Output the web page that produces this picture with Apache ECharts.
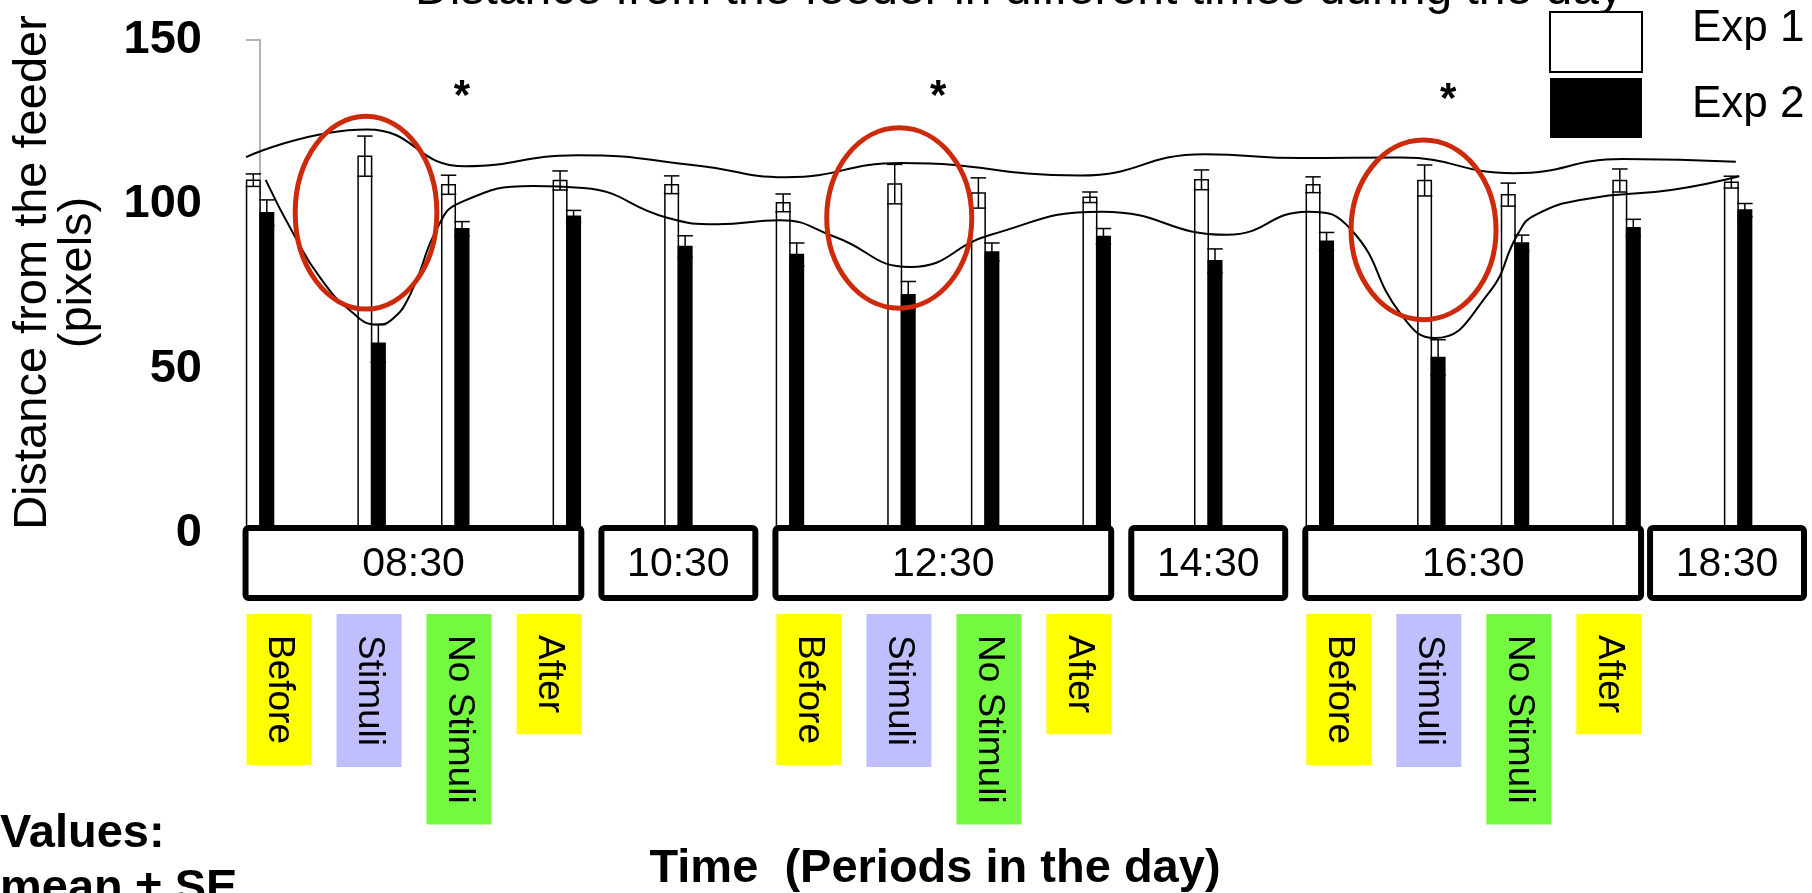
<!DOCTYPE html>
<html>
<head>
<meta charset="utf-8">
<script src="https://cdn.jsdelivr.net/npm/echarts@6/dist/echarts.min.js"></script>
<style>
  html, body { margin: 0; padding: 0; background: #fff; }
  #chart { width: 1812px; height: 893px; }
</style>
</head>
<body>
<div id="chart"></div>
<script>
// slot of each bar pair along the day (No Stimuli sits closer to Stimuli)
const groupPos = [0, 1, 1.75, 2.75, 3.75, 4.75, 5.75, 6.5, 7.5, 8.5, 9.5, 10.5, 11.25, 12.25, 13.25];
const groupPeriod = [0, 0, 0, 0, 1, 2, 2, 2, 2, 3, 4, 4, 4, 4, 5];
const periods = ['08:30', '10:30', '12:30', '14:30', '16:30', '18:30'];
const conditions = ['Before', 'Stimuli', 'No Stimuli', 'After'];
const conditionColors = ['#ffff00', '#bfbfff', '#74f941', '#ffff00'];

const exp1Mean = [107.4, 114.7, 106.0, 107.3, 106.0, 100.5, 106.2, 103.5, 102.2, 107.5, 106.0, 107.3, 103.0, 107.3, 106.8];
const exp1SE = [1.9, 6.1, 2.9, 2.9, 2.7, 2.7, 6.0, 4.6, 1.6, 3.0, 2.4, 4.7, 3.5, 3.5, 1.8];
const exp2Mean = [97.5, 57.8, 92.6, 96.4, 87.2, 84.8, 72.6, 85.6, 90.3, 82.9, 88.8, 53.5, 88.3, 92.9, 98.3];
const exp2SE = [3.9, 5.7, 2.2, 1.8, 3.3, 3.5, 4.0, 2.7, 2.4, 3.6, 2.7, 5.4, 2.4, 2.6, 2.0];
const legendNames = ['Exp 1', 'Exp 2'];

// hand drawn trend curves
const upperX = [-0.126, 0.96, 1.84, 2.84, 3.95, 4.71, 5.75, 7.35, 8.47, 9.33, 10.22, 11.24, 12.22, 13.23];
const upperY = [114.4, 122.8, 111.6, 115.0, 111.7, 108.3, 112.6, 108.8, 115.3, 114.1, 114.3, 109.5, 113.8, 113.0];
const lowerX = [0.05, 0.30, 0.54, 0.81, 1.05, 1.17, 1.35, 1.59, 1.79, 2.45, 2.90, 3.65, 4.10, 4.66, 5.15, 5.83, 6.55, 7.55, 8.67, 9.39, 9.78, 10.23, 10.53, 11.01, 11.28, 11.43, 11.89, 12.65, 13.26];
const lowerY = [107.5, 91.0, 77.7, 67.7, 63.5, 64.7, 72.9, 92.9, 100.5, 105.6, 105.0, 96.0, 94.0, 95.2, 90.2, 81.0, 90.8, 97.8, 90.8, 97.8, 92.4, 66.5, 59.4, 72.9, 91.3, 96.8, 101.7, 104.4, 108.6];

// red circles around the Stimuli periods (centre and radii in axis units)
const ringX = [0.95, 5.73, 10.43];
const ringY = [97.5, 95.9, 92.3];
const ringRX = [0.635, 0.65, 0.65];
const ringRY = [29.3, 27.4, 27.3];

const starX = [1.81, 6.08, 10.65];
const starY = [132.6, 132.4, 131.7];

const FONT = '"Liberation Sans", Arial, sans-serif';
const BAR_W = 13.5;

let chart = echarts.init(document.getElementById('chart'));

function barRenderer(fill, side) {
  return function (params, api) {
    const x = api.value(0), m = api.value(1), se = api.value(2);
    const p0 = api.coord([x, 0]);
    const pm = api.coord([x, m]);
    const ph = api.coord([x, m + se]);
    const pl = api.coord([x, m - se]);
    const left = side < 0 ? p0[0] - BAR_W : p0[0];
    const cx = left + BAR_W / 2;
    const cap = BAR_W / 2 + 1;
    const ln = { stroke: '#000', lineWidth: 1.5 };
    return {
      type: 'group',
      children: [
        { type: 'rect', shape: { x: left, y: pm[1], width: BAR_W, height: p0[1] - pm[1] },
          style: { fill: fill, stroke: '#000', lineWidth: 1.5 } },
        { type: 'line', shape: { x1: cx, y1: ph[1], x2: cx, y2: pl[1] }, style: ln },
        { type: 'line', shape: { x1: cx - cap, y1: ph[1], x2: cx + cap, y2: ph[1] }, style: ln },
        { type: 'line', shape: { x1: cx - cap, y1: pl[1], x2: cx + cap, y2: pl[1] }, style: ln }
      ]
    };
  };
}

// one box per period under the axis
const periodData = periods.map((name, k) => {
  const ps = groupPos.filter((p, i) => groupPeriod[i] === k);
  const pad = ps.length > 1 ? 0.13 : 0.69;
  return [Math.min(...ps) - pad, Math.max(...ps) + pad, k];
});

function renderPeriod(params, api) {
  const a = api.coord([api.value(0), 0]);
  const b = api.coord([api.value(1), 0]);
  let x1 = a[0], x2 = b[0];
  const over = x2 - (api.getWidth() - 8);
  if (over > 0) { x1 -= over; x2 -= over; }
  return {
    type: 'group',
    children: [
      { type: 'rect', shape: { x: x1, y: a[1] - 5.5, width: x2 - x1, height: 70, r: 3 },
        style: { fill: '#fff', stroke: '#000', lineWidth: 6 } },
      { type: 'text', x: (x1 + x2) / 2, y: a[1] + 31,
        style: { text: periods[api.value(2)], font: '41px ' + FONT, fill: '#000',
          align: 'center', verticalAlign: 'middle' } }
    ]
  };
}

// condition tags under the four-part periods
const labelData = [];
periods.forEach((name, k) => {
  const idx = groupPeriod.map((p, i) => (p === k ? i : -1)).filter(i => i >= 0);
  if (idx.length === 4) {
    idx.forEach((gi, c) => labelData.push([groupPos[idx[0]] + 0.17 + 0.807 * c, c]));
  }
});

function renderLabel(params, api) {
  const p = api.coord([api.value(0), 0]);
  const c = api.value(1);
  return {
    type: 'text',
    x: p[0],
    y: p[1] + 80.5,
    rotation: -Math.PI / 2,
    style: {
      text: conditions[c], font: '37px ' + FONT, fill: '#000',
      backgroundColor: conditionColors[c], padding: [12, 21], lineHeight: 41,
      align: 'left', verticalAlign: 'middle'
    }
  };
}

function renderRing(params, api) {
  const c = api.coord([api.value(0), api.value(1)]);
  const s = api.size([api.value(2), api.value(3)]);
  return {
    type: 'ellipse',
    shape: { cx: c[0], cy: c[1], rx: s[0], ry: s[1] },
    style: { fill: 'none', stroke: '#cc2a0a', lineWidth: 5 }
  };
}

function renderStar(params, api) {
  const c = api.coord([api.value(0), api.value(1)]);
  return {
    type: 'text', x: c[0], y: c[1],
    style: { text: '*', font: 'bold 42px ' + FONT, fill: '#000', align: 'center', verticalAlign: 'middle' }
  };
}

const option = {
  animation: false,
  backgroundColor: '#fff',
  grid: { left: 246, right: 46, top: 40, bottom: 359.5, outerBoundsMode: 'none' },
  legend: {
    orient: 'vertical', left: 1549, top: 11, padding: 0,
    itemWidth: 92, itemHeight: 60, itemGap: 5,
    selectedMode: false,
    formatter: () => '',
    data: [
      { name: legendNames[0], icon: 'rect', itemStyle: { color: '#fff', borderColor: '#000', borderWidth: 2 } },
      { name: legendNames[1], icon: 'rect', itemStyle: { color: '#000', borderColor: '#000', borderWidth: 0 } }
    ]
  },
  xAxis: {
    type: 'value', min: -0.126, max: 13.5, show: false
  },
  yAxis: {
    type: 'value', min: 0, max: 150, interval: 50,
    axisLine: { show: true, lineStyle: { color: '#999', width: 1.5 } },
    axisTick: { show: true, length: 14, lineStyle: { color: '#999', width: 1.5 } },
    axisLabel: { margin: 44, color: '#000', fontSize: 47, fontWeight: 'bold', fontFamily: FONT },
    splitLine: { show: false }
  },
  graphic: [
    { type: 'text', x: 1019, y: -9.5,
      style: { text: 'Distance from the feeder in different times during the day', font: '48px ' + FONT,
        fill: '#000', align: 'center', verticalAlign: 'middle' } },
    { type: 'text', x: 33.5, y: 272.5, rotation: Math.PI / 2,
      style: { text: 'Distance from the feeder', font: '47px ' + FONT, fill: '#000', align: 'center', verticalAlign: 'middle' } },
    { type: 'text', x: 78.5, y: 272.5, rotation: Math.PI / 2,
      style: { text: '(pixels)', font: '47px ' + FONT, fill: '#000', align: 'center', verticalAlign: 'middle' } },
    { type: 'text', x: 1692, y: 29,
      style: { text: legendNames[0], font: '44px ' + FONT, fill: '#000', align: 'left', verticalAlign: 'middle' } },
    { type: 'text', x: 1692, y: 105,
      style: { text: legendNames[1], font: '44px ' + FONT, fill: '#000', align: 'left', verticalAlign: 'middle' } },
    { type: 'text', x: 0, y: 834,
      style: { text: 'Values:', font: 'bold 47px ' + FONT, fill: '#000', align: 'left', verticalAlign: 'middle' } },
    { type: 'text', x: 0, y: 889,
      style: { text: 'mean \u00b1 SE', font: 'bold 47px ' + FONT, fill: '#000', align: 'left', verticalAlign: 'middle' } },
    { type: 'text', x: 935, y: 869,
      style: { text: 'Time  (Periods in the day)', font: 'bold 47px ' + FONT, fill: '#000', align: 'center', verticalAlign: 'middle' } }
  ],
  series: [
    {
      name: legendNames[0], type: 'custom', z: 3,
      renderItem: barRenderer('#fff', -1),
      encode: { x: 0, y: 1 },
      data: groupPos.map((p, i) => [p, exp1Mean[i], exp1SE[i]])
    },
    {
      name: legendNames[1], type: 'custom', z: 3,
      renderItem: barRenderer('#000', 1),
      encode: { x: 0, y: 1 },
      data: groupPos.map((p, i) => [p, exp2Mean[i], exp2SE[i]])
    },
    {
      name: 'periods', type: 'custom', z: 4,
      renderItem: renderPeriod,
      encode: { x: [0, 1], y: 2 },
      data: periodData
    },
    {
      name: 'conditions', type: 'custom', z: 2,
      renderItem: renderLabel,
      encode: { x: 0, y: 1 },
      data: labelData
    },
    {
      name: 'upper', type: 'line', z: 5, smooth: 0.5, symbol: 'none',
      lineStyle: { color: '#000', width: 2 },
      data: upperX.map((x, i) => [x, upperY[i]])
    },
    {
      name: 'lower', type: 'line', z: 5, smooth: 0.5, symbol: 'none',
      lineStyle: { color: '#000', width: 2 },
      data: lowerX.map((x, i) => [x, lowerY[i]])
    },
    {
      name: 'rings', type: 'custom', z: 6,
      renderItem: renderRing,
      encode: { x: 0, y: 1 },
      data: ringX.map((x, i) => [x, ringY[i], ringRX[i], ringRY[i]])
    },
    {
      name: 'stars', type: 'custom', z: 6,
      renderItem: renderStar,
      encode: { x: 0, y: 1 },
      data: starX.map((x, i) => [x, starY[i]])
    }
  ]
};

chart.setOption(option);
</script>
</body>
</html>
